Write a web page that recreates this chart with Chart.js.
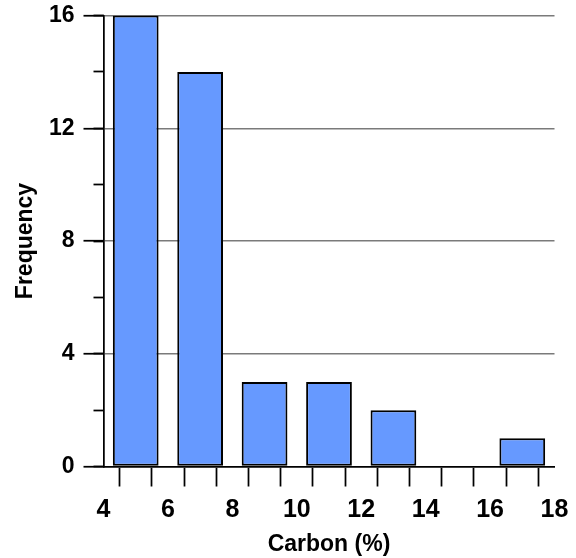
<!DOCTYPE html>
<html>
<head>
<meta charset="utf-8">
<script src="https://cdn.jsdelivr.net/npm/chart.js@4/dist/chart.umd.min.js"></script>
<style>
  html, body { margin: 0; padding: 0; background: #ffffff; }
  #wrap { width: 576px; height: 558px; }
</style>
</head>
<body>
<div id="wrap"><canvas id="histogram" width="576" height="558"></canvas></div>
<script>
// Histogram of carbon content: bin centres (2 % wide bins) and counts
const binCenters = [5, 7, 9, 11, 13, 15, 17];
const frequencies = [16, 14, 3, 3, 2, 0, 1];

// Which tick values carry a label
const xLabelledTicks = [4, 6, 8, 10, 12, 14, 16, 18];
const yLabelledTicks = [0, 4, 8, 12, 16];

const xTitle = 'Carbon (%)';
const yTitle = 'Frequency';

const FONT = "'Liberation Sans', Arial, Helvetica, sans-serif";
const BLACK = '#000000';

new Chart(document.getElementById('histogram'), {
  type: 'bar',
  data: {
    datasets: [{
      data: binCenters.map((x, i) => ({ x: x, y: frequencies[i] })),
      backgroundColor: '#6699FF',
      borderColor: BLACK,
      borderWidth: 2,
      borderSkipped: false,
      // the ruler spacing is one x tick (1 %), bins are two ticks wide
      barPercentage: 1.42,
      categoryPercentage: 1,
      xAxisID: 'x',
      yAxisID: 'y'
    }]
  },
  options: {
    responsive: false,
    animation: false,
    devicePixelRatio: 1,
    layout: { padding: { top: 15.5, right: 21.5, left: 0, bottom: 0 } },
    plugins: {
      legend: { display: false },
      tooltip: { enabled: false }
    },
    scales: {
      x: {
        type: 'linear',
        position: 'bottom',
        min: 4,
        max: 18,
        offset: false,
        ticks: {
          stepSize: 1,
          autoSkip: false,
          maxRotation: 0,
          padding: 9,
          color: BLACK,
          font: { family: FONT, size: 25, weight: 'bold' },
          callback: v => xLabelledTicks.includes(v) ? String(v) : ''
        },
        grid: {
          drawOnChartArea: false,
          drawTicks: true,
          tickLength: 20,
          tickColor: BLACK,
          tickWidth: 1.75
        },
        border: { display: true, color: BLACK, width: 1.75 },
        title: {
          display: true,
          text: xTitle,
          color: BLACK,
          font: { family: FONT, size: 23, weight: 'bold' },
          padding: { top: 0, bottom: 0 }
        },
        afterFit: s => { s.height = 91.5; s.paddingLeft = 0; s.paddingRight = 0; }
      },
      y: {
        type: 'linear',
        position: 'left',
        weight: 1,
        min: 0,
        max: 16,
        ticks: {
          stepSize: 4,
          padding: 9,
          color: BLACK,
          font: { family: FONT, size: 23, weight: 'bold' },
          callback: v => yLabelledTicks.includes(v) ? String(v) : ''
        },
        grid: {
          drawOnChartArea: true,
          color: c => (c.tick && c.tick.value > 0) ? '#7a7a7a' : 'rgba(0,0,0,0)',
          lineWidth: 1.5,
          drawTicks: true,
          tickLength: 20,
          tickColor: BLACK,
          tickWidth: 1.75
        },
        border: { display: true, color: BLACK, width: 1.75 },
        title: {
          display: true,
          text: yTitle,
          color: BLACK,
          font: { family: FONT, size: 23, weight: 'bold' },
          padding: { top: 12, bottom: 0 }
        },
        afterFit: s => { s.width = 103.5; s.paddingTop = 0; s.paddingBottom = 0; }
      },
      yMinor: {
        type: 'linear',
        position: 'left',
        weight: 0,
        min: 0,
        max: 16,
        ticks: { stepSize: 2, display: false },
        grid: {
          drawOnChartArea: false,
          drawTicks: true,
          tickLength: 10,
          tickColor: BLACK,
          tickWidth: 1.75
        },
        border: { display: false },
        afterFit: s => { s.width = 0; s.paddingTop = 0; s.paddingBottom = 0; }
      }
    }
  }
});
</script>
</body>
</html>
